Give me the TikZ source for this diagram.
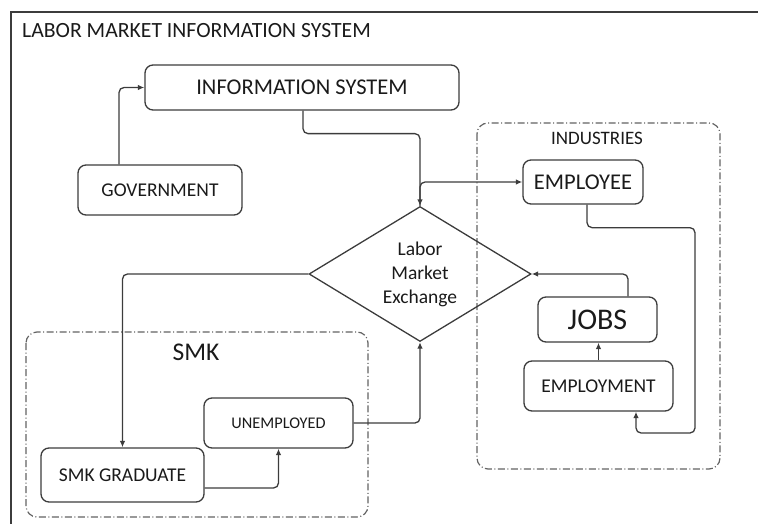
\documentclass[tikz,border=0pt]{standalone}
\usepackage{fontspec}
\setmainfont{Carlito}
\usetikzlibrary{shapes.geometric,arrows.meta}
\definecolor{ln}{HTML}{3C3C3C}
\definecolor{tx}{HTML}{1A1A1A}
\begin{document}
\begin{tikzpicture}[x=1pt,y=-1pt,
  box/.style={draw=ln,line width=1.3pt,rounded corners=8pt,inner sep=0pt,text=tx,align=center},
  arr/.style={draw=ln,line width=1.3pt,rounded corners=5pt,-{Latex[length=6.5pt,width=5.5pt]}},
  grp/.style={draw=ln!80,line width=1.2pt,rounded corners=11pt,dash pattern=on 7pt off 2.5pt on 1pt off 2.5pt},
  lbl/.style={text=tx,inner sep=0pt}]
\useasboundingbox (0,0) rectangle (758,524);
\draw[ln,line width=1.3pt] (11,530) -- (11,12) -- (770,12);
\node[lbl,anchor=west,font=\fontsize{21.7}{24}\selectfont] (title) at (22,31) {LABOR MARKET INFORMATION SYSTEM};
% groups
\draw[grp] (477,123) rectangle (720,469);
\node[lbl,font=\fontsize{19}{22}\selectfont] (indlbl) at (597,138) {INDUSTRIES};
\draw[grp] (26,332) rectangle (368,517);
\node[lbl,font=\fontsize{25.5}{28}\selectfont] (smklbl) at (196,352) {SMK};
% nodes
\node[box,minimum width=314pt,minimum height=45pt,font=\fontsize{22.5}{26}\selectfont] (info) at (302,87.5) {INFORMATION SYSTEM};
\node[box,minimum width=164pt,minimum height=50pt,font=\fontsize{19.5}{22}\selectfont] (gov) at (160,190) {GOVERNMENT};
\node[draw=ln,line width=1.3pt,shape=diamond,aspect=1.644,inner sep=0pt,minimum width=222pt,minimum height=135pt,text=tx,align=center,font=\fontsize{19.5}{24}\selectfont] (lme) at (420,274) {Labor\\Market\\Exchange};
\node[box,minimum width=120pt,minimum height=44pt,font=\fontsize{22.5}{26}\selectfont] (employee) at (583,182) {EMPLOYEE};
\node[box,minimum width=119pt,minimum height=45pt,font=\fontsize{30}{32}\selectfont] (jobs) at (597.5,319.5) {JOBS};
\node[box,minimum width=149pt,minimum height=50pt,font=\fontsize{19.5}{22}\selectfont] (employment) at (598.5,386) {EMPLOYMENT};
\node[box,minimum width=163pt,minimum height=54pt,font=\fontsize{19.5}{22}\selectfont] (grad) at (122.5,475) {SMK GRADUATE};
\node[box,minimum width=149pt,minimum height=50pt,font=\fontsize{16.3}{20}\selectfont] (unemp) at (278.5,423) {UNEMPLOYED};
\coordinate (c1) at (695,433);
% connectors
\draw[arr] ([xshift=-41pt]gov.north) |- (info.west);
\draw[arr] ([xshift=1pt]info.south) -- ++(0,23) -| (lme.north);
\draw[arr] (lme.north) |- (employee.west);
\draw[arr] ([xshift=4pt]employee.south) -- ++(0,23) -| (c1) -| ([xshift=37.5pt]employment.south);
\draw[arr] (employment.north) -- (employment.north |- jobs.south);
\draw[arr] ([xshift=30.5pt]jobs.north) |- (lme.east);
\draw[arr] (lme.west) -| (grad.north);
\draw[arr] ([yshift=-13pt]grad.east) -| (unemp.south);
\draw[arr] (unemp.east) -| (lme.south);
\end{tikzpicture}
\end{document}
